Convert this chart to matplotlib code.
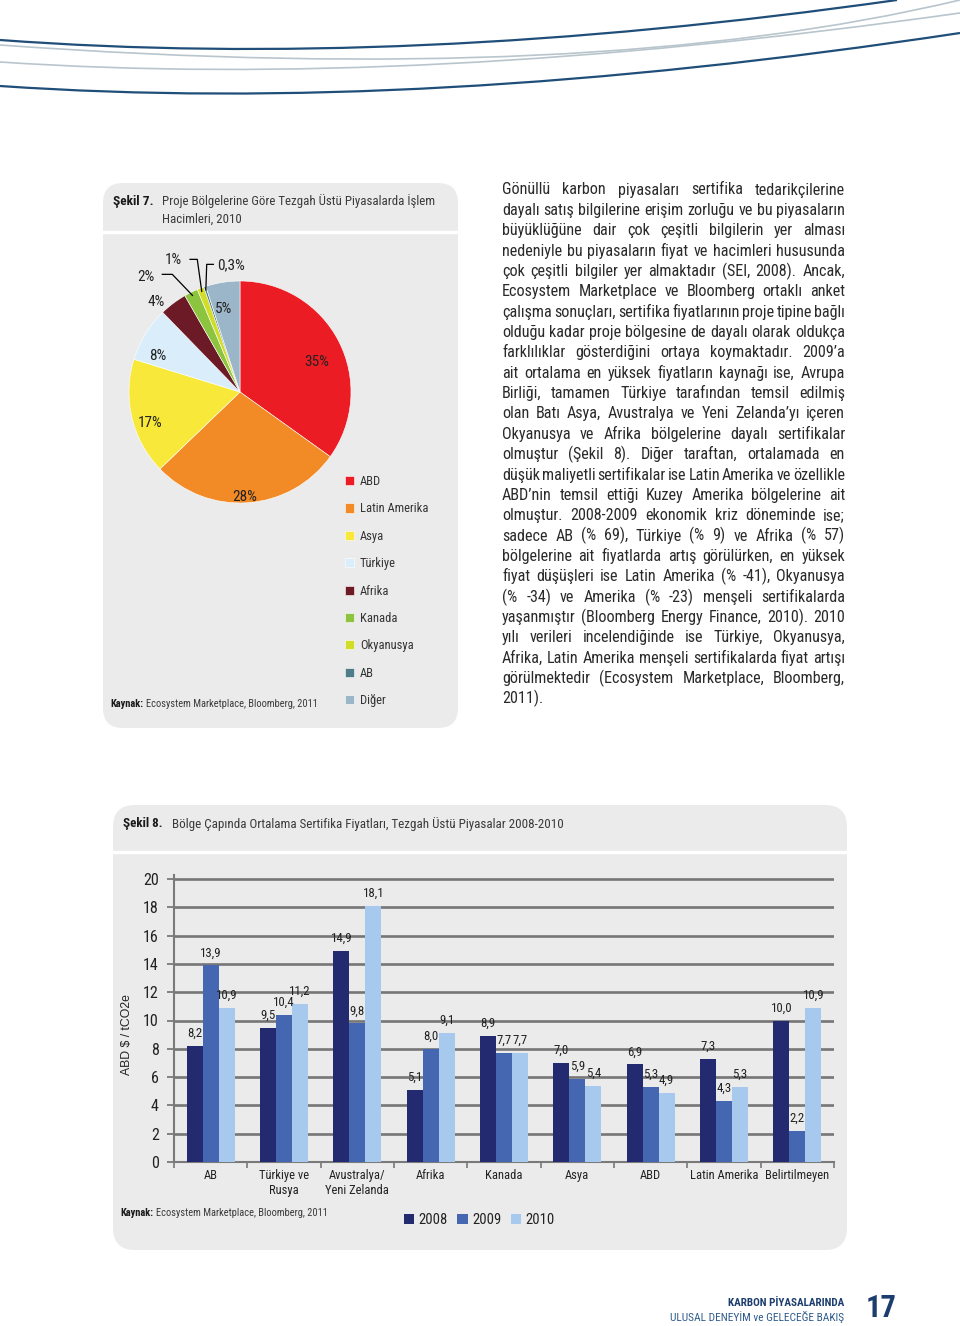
import matplotlib
matplotlib.use('Agg')
import matplotlib.pyplot as plt
from matplotlib import font_manager
from matplotlib.patches import FancyBboxPatch, PathPatch
from matplotlib.path import Path
import numpy as np

# ---------------- data ----------------
pie_labels = ['ABD', 'Latin Amerika', 'Asya', 'Türkiye', 'Afrika', 'Kanada',
              'Okyanusya', 'AB', 'Diğer']
pie_values = [35, 28, 17, 8, 4, 2, 1, 0.3, 5]
pie_texts = ['35%', '28%', '17%', '8%', '4%', '2%', '1%', '0,3%', '5%']
pie_colors = ['#ec1c24', '#f28a25', '#f7e83a', '#d9eefa', '#6b1a26',
              '#8cc43f', '#d2dd28', '#4e7c8a', '#9cb6c9']

bar_categories = ['AB', 'Türkiye ve\nRusya', 'Avustralya/\nYeni Zelanda', 'Afrika',
                  'Kanada', 'Asya', 'ABD', 'Latin Amerika', 'Belirtilmeyen']
years = ['2008', '2009', '2010']
prices_2008 = [8.2, 9.5, 14.9, 5.1, 8.9, 7.0, 6.9, 7.3, 10.0]
prices_2009 = [13.9, 10.4, 9.8, 8.0, 7.7, 5.9, 5.3, 4.3, 2.2]
prices_2010 = [10.9, 11.2, 18.1, 9.1, 7.7, 5.4, 4.9, 5.3, 10.9]
bar_colors = ['#232a6f', '#4566b1', '#a6c9ed']
y_ticks = [0, 2, 4, 6, 8, 10, 12, 14, 16, 18, 20]

paragraph = [
    "Gönüllü karbon piyasaları sertifika tedarikçilerine",
    "dayalı satış bilgilerine erişim zorluğu ve bu piyasaların",
    "büyüklüğüne dair çok çeşitli bilgilerin yer alması",
    "nedeniyle bu piyasaların fiyat ve hacimleri hususunda",
    "çok çeşitli bilgiler yer almaktadır (SEI, 2008). Ancak,",
    "Ecosystem Marketplace ve Bloomberg ortaklı anket",
    "çalışma sonuçları, sertifika fiyatlarının proje tipine bağlı",
    "olduğu kadar proje bölgesine de dayalı olarak oldukça",
    "farklılıklar gösterdiğini ortaya koymaktadır. 2009’a",
    "ait ortalama en yüksek fiyatların kaynağı ise, Avrupa",
    "Birliği, tamamen Türkiye tarafından temsil edilmiş",
    "olan Batı Asya, Avustralya ve Yeni Zelanda’yı içeren",
    "Okyanusya ve Afrika bölgelerine dayalı sertifikalar",
    "olmuştur (Şekil 8). Diğer taraftan, ortalamada en",
    "düşük maliyetli sertifikalar ise Latin Amerika ve özellikle",
    "ABD’nin temsil ettiği Kuzey Amerika bölgelerine ait",
    "olmuştur. 2008-2009 ekonomik kriz döneminde ise;",
    "sadece AB (% 69), Türkiye (% 9) ve Afrika (% 57)",
    "bölgelerine ait fiyatlarda artış görülürken, en yüksek",
    "fiyat düşüşleri ise Latin Amerika (% -41), Okyanusya",
    "(% -34) ve Amerika (% -23) menşeli sertifikalarda",
    "yaşanmıştır (Bloomberg Energy Finance, 2010). 2010",
    "yılı verileri incelendiğinde ise Türkiye, Okyanusya,",
    "Afrika, Latin Amerika menşeli sertifikalarda fiyat artışı",
    "görülmektedir (Ecosystem Marketplace, Bloomberg,",
    "2011).",
]

# ---------------- fonts ----------------
avail = {f.name for f in font_manager.fontManager.ttflist}
NARROW = next((f for f in ['Liberation Sans Narrow', 'DejaVu Sans Condensed',
                           'Roboto Condensed'] if f in avail), 'Liberation Sans')
FN = [NARROW, 'DejaVu Sans']
FR = ['Liberation Sans', 'DejaVu Sans']
plt.rcParams['font.family'] = FN

W_PX, H_PX = 960, 1326
fig = plt.figure(figsize=(9.6, 13.26), dpi=100)
fig.patch.set_facecolor('white')
pg = fig.add_axes([0, 0, 1, 1])
pg.set_xlim(0, W_PX)
pg.set_ylim(H_PX, 0)
pg.axis('off')


def fx(x):
    return x / W_PX


def fy(y):
    return 1 - y / H_PX


# ---------------- decorative curves ----------------
curves = [
    ((0, 45), (592, 88), (960, 0), '#b9c5cd', 1.2),
    ((0, 62), (414, 90), (960, 13), '#b9c5cd', 1.2),
    ((0, 40), (403, 70), (897, 0), '#1f4e79', 1.6),
    ((0, 86), (418, 115), (960, 33), '#1f4e79', 1.6),
]
for p0, p1, p2, col, lw in curves:
    path = Path([p0, p1, p2], [Path.MOVETO, Path.CURVE3, Path.CURVE3])
    pg.add_patch(PathPatch(path, fc='none', ec=col, lw=lw))

# ---------------- panels ----------------
PANEL = '#ebebeb'
pg.add_patch(FancyBboxPatch((103, 183), 355, 545,
                            boxstyle='round,pad=0,rounding_size=20',
                            fc=PANEL, ec='none'))
pg.plot([103, 458], [232, 232], color='white', lw=2.5)
pg.add_patch(FancyBboxPatch((113, 805), 734, 445,
                            boxstyle='round,pad=0,rounding_size=22',
                            fc=PANEL, ec='none'))
pg.plot([113, 847], [852, 852], color='white', lw=2.5)

# ---------------- pie panel texts ----------------
pg.text(113, 201, 'Şekil 7.', fontsize=9.6, fontweight='bold', color='#1a1a1a',
        va='center', family=FN)
pg.text(162, 201, 'Proje Bölgelerine Göre Tezgah Üstü Piyasalarda İşlem',
        fontsize=9.3, color='#3a3a3a', va='center', family=FN)
pg.text(162, 219, 'Hacimleri, 2010', fontsize=9.3, color='#3a3a3a',
        va='center', family=FN)
pg.text(110, 704, 'Kaynak:', fontsize=7.5, fontweight='bold', color='#1a1a1a',
        va='center', family=FN)
pg.text(146, 704, 'Ecosystem Marketplace, Bloomberg, 2011', fontsize=7.5,
        color='#3a3a3a', va='center', family=FN)

# ---------------- pie ----------------
CX, CY, R_PX, HB = 240, 392, 111, 160
axp = fig.add_axes([fx(CX - HB), fy(CY + HB), 2 * HB / W_PX, 2 * HB / H_PX])
wedges, _ = axp.pie(pie_values, colors=pie_colors, startangle=90,
                    counterclock=False, radius=1,
                    wedgeprops=dict(edgecolor='white', linewidth=0.4))
lim = HB / R_PX
axp.set_xlim(-lim, lim)
axp.set_ylim(-lim, lim)
axp.set_aspect('equal')
axp.axis('off')

# label placement: (radius factor, angle offset in degrees) from wedge middle
label_place = {0: (0.74, -6.0), 1: (0.95, -1.5), 2: (0.86, 5.5), 3: (0.81, 8.0),
               4: (1.11, 6.0), 8: (0.76, 2.0)}
lab_kw = dict(fontsize=11, color='#222222', family=FN)
for i, w in enumerate(wedges):
    if i in label_place:
        r, dth = label_place[i]
        th = np.deg2rad((w.theta1 + w.theta2) / 2 + dth)
        axp.text(r * np.cos(th), r * np.sin(th), pie_texts[i], ha='center',
                 va='center', **lab_kw)


# leader-line labels (Kanada, Okyanusya, AB)
def mid(i, r=0.97):
    th = np.deg2rad((wedges[i].theta1 + wedges[i].theta2) / 2)
    return r * np.cos(th), r * np.sin(th)


ax5, ay5 = mid(5)
axp.plot([-0.70, -0.61, ax5], [1.06, 1.06, ay5], color='black', lw=0.9)
axp.text(-0.77, 1.04, pie_texts[5], ha='right', va='center', **lab_kw)
ax6, ay6 = mid(6)
axp.plot([-0.45, -0.385, ax6], [1.195, 1.195, ay6], color='black', lw=0.9)
axp.text(-0.52, 1.19, pie_texts[6], ha='right', va='center', **lab_kw)
ax7, ay7 = mid(7)
axp.plot([-0.24, -0.30, ax7], [1.15, 1.15, ay7], color='black', lw=0.9)
axp.text(-0.21, 1.14, pie_texts[7], ha='left', va='center', **lab_kw)

fig.legend(wedges, pie_labels, loc='upper left',
           bbox_to_anchor=(fx(345), fy(475)), frameon=False, borderpad=0,
           borderaxespad=0, handlelength=0.75, handleheight=0.75,
           handletextpad=0.45, labelspacing=1.15,
           prop=dict(family=FN, size=9), labelcolor='#333333')

# ---------------- bar panel texts ----------------
pg.text(123, 824, 'Şekil 8.', fontsize=9.4, fontweight='bold', color='#1a1a1a',
        va='center', family=FN)
pg.text(172, 824, 'Bölge Çapında Ortalama Sertifika Fiyatları, Tezgah Üstü '
        'Piyasalar 2008-2010', fontsize=9.4, color='#3a3a3a', va='center',
        family=FN)
pg.text(120, 1213, 'Kaynak:', fontsize=7.5, fontweight='bold', color='#1a1a1a',
        va='center', family=FN)
pg.text(156, 1213, 'Ecosystem Marketplace, Bloomberg, 2011', fontsize=7.5,
        color='#3a3a3a', va='center', family=FN)

# ---------------- bar chart ----------------
Y0, Y20 = 1162, 879
UNIT = (Y0 - Y20) / 20
YTOP = 20.3
XL, XR = 174, 834
axb = fig.add_axes([fx(XL), fy(Y0), (XR - XL) / W_PX, YTOP * UNIT / H_PX])
axb.set_facecolor('none')
xpos = np.arange(len(bar_categories))
bw = 0.218
series = [prices_2008, prices_2009, prices_2010]
containers = []
for k, (vals, col) in enumerate(zip(series, bar_colors)):
    bars = axb.bar(xpos + (k - 1) * bw, vals, bw, color=col, zorder=3)
    containers.append(bars)
    for b, v in zip(bars, vals):
        axb.annotate(f'{v:.1f}'.replace('.', ','),
                     (b.get_x() + b.get_width() / 2, v), xytext=(0, 6.5),
                     textcoords='offset points', ha='center', va='baseline',
                     fontsize=9.3, color='#222222', family=FN, zorder=4)
axb.set_xlim(-0.5, len(bar_categories) - 0.5)
axb.set_ylim(0, YTOP)
axb.set_yticks(y_ticks)
axb.set_yticklabels([str(t) for t in y_ticks], family=FN)
axb.yaxis.grid(True, color='#767676', lw=1.9)
axb.set_axisbelow(True)
for s in ['top', 'right']:
    axb.spines[s].set_visible(False)
for s in ['left', 'bottom']:
    axb.spines[s].set_color('#7a7a7a')
    axb.spines[s].set_linewidth(1.5)
axb.set_xticks(np.arange(-0.5, len(bar_categories), 1))
axb.set_xticklabels([])
axb.set_xticks(xpos, labels=bar_categories, minor=True)
axb.tick_params(axis='x', which='major', length=4, width=1.2, color='#7a7a7a')
axb.tick_params(axis='x', which='minor', length=0, pad=5, labelsize=9,
                labelcolor='#222222')
for t in axb.get_xticklabels(minor=True):
    t.set_family(FN)
    t.set_linespacing(1.25)
axb.tick_params(axis='y', length=5, width=1.3, color='#7a7a7a', pad=6,
                labelsize=11.5, labelcolor='#222222')
axb.set_ylabel('ABD $ / tCO2e', fontsize=8.8, family=FR, color='#222222')
axb.yaxis.set_label_coords((133 - XL) / (XR - XL), (Y0 - 1035) / (YTOP * UNIT))

fig.legend(containers, years, loc='center left',
           bbox_to_anchor=(fx(404), fy(1220)), frameon=False, ncol=3,
           borderpad=0, borderaxespad=0, handlelength=0.7, handleheight=0.7,
           handletextpad=0.3, columnspacing=0.65,
           prop=dict(family=FN, size=10.5), labelcolor='#222222')

# ---------------- paragraph (justified) ----------------
renderer = fig.canvas.get_renderer()
PX0, PX1 = 502, 845
PY0, LH = 189, 20.36
TXT_COL = '#2a2a2a'


def text_width(s, fs):
    t = pg.text(0, 0, s, fontsize=fs, family=FN)
    w = t.get_window_extent(renderer).width
    t.remove()
    return w


fs0 = 11.0
sp0 = text_width('a a', fs0) - text_width('aa', fs0)
fits = []
for ln in paragraph[:-1]:
    wd = ln.split(' ')
    need = sum(text_width(w, fs0) for w in wd) + 0.55 * sp0 * (len(wd) - 1)
    fits.append(fs0 * (PX1 - PX0) / need)
fs = min(min(fits), 11.8)
sp = text_width('a a', fs) - text_width('aa', fs)
for i, ln in enumerate(paragraph):
    words = ln.split(' ')
    ws = [text_width(w, fs) for w in words]
    if i == len(paragraph) - 1 or len(words) == 1:
        gap = sp
    else:
        gap = ((PX1 - PX0) - sum(ws)) / (len(words) - 1)
    x = PX0
    y = PY0 + i * LH + 5.5
    for w, wd in zip(words, ws):
        pg.text(x, y, w, fontsize=fs, family=FN, color=TXT_COL, va='baseline')
        x += wd + gap

# ---------------- footer ----------------
pg.text(844, 1303, 'KARBON PİYASALARINDA', fontsize=8, fontweight='bold',
        color='#1c3d6e', ha='right', va='center', family=FN)
pg.text(844, 1317, 'ULUSAL DENEYİM ve GELECEĞE BAKIŞ', fontsize=8.2,
        color='#2f5b8c', ha='right', va='center', family=FN)
pg.text(866, 1308, '17', fontsize=22, fontweight='bold', color='#1c3d6e',
        ha='left', va='center', family=FN)

fig.savefig('out.png', dpi=100, facecolor='white')
